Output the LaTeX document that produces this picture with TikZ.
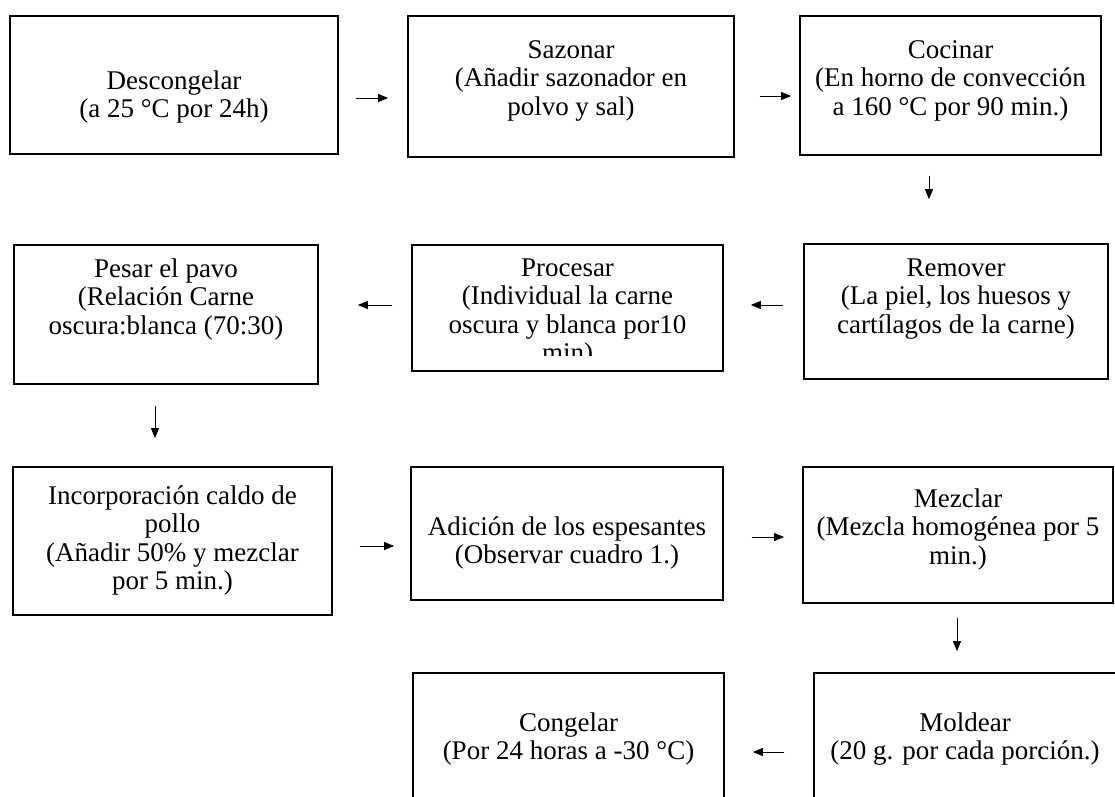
\documentclass[tikz,border=0pt]{standalone}
\usepackage{fontspec}
\setmainfont{Liberation Serif}
\usetikzlibrary{arrows.meta}

\begin{document}
\begin{tikzpicture}[x=1pt,y=-1pt,
  box/.style={draw,line width=1.7pt,inner sep=0pt},
  txt/.style={align=center,inner sep=0pt,anchor=north,font=\fontsize{27}{28.5}\selectfont},
  flow/.style={-{Triangle[length=10pt,width=8pt]},line width=1pt}]
  \path[use as bounding box,clip] (0,0) rectangle (1115,796);
  % boxes (absolute positions, px of the original)
  \node[box,minimum width=328,minimum height=138] (desc) at (174,85) {};
  \node[box,minimum width=326,minimum height=141] (saz) at (571,86.5) {};
  \node[box,minimum width=301,minimum height=139] (coc) at (950.5,85.5) {};
  \node[box,minimum width=304,minimum height=135] (rem) at (956,311.5) {};
  \node[box,minimum width=311,minimum height=126] (proc) at (567.5,308) {};
  \node[box,minimum width=304,minimum height=139] (pesar) at (166,314.5) {};
  \node[box,minimum width=319,minimum height=148] (inc) at (172.5,541) {};
  \node[box,minimum width=312,minimum height=133] (adi) at (567,533.5) {};
  \node[box,minimum width=310,minimum height=136] (mez) at (958,535) {};
  \node[box,minimum width=311,minimum height=128] (cong) at (568.5,737) {};
  \node[box,minimum width=302,minimum height=128] (mold) at (965,737) {};
  % texts
  \node[txt] (descT) at ([yshift=-55]desc.north) {Descongelar\\(a 25 °C por 24h)};
  \node[txt] (sazT) at ([yshift=-25]saz.north) {Sazonar\\(Añadir sazonador en\\polvo y sal)};
  \node[txt] (cocT) at ([yshift=-25]coc.north) {Cocinar\\(En horno de convección\\a 160 °C por 90 min.)};
  \node[txt] (remT) at ([yshift=-15]rem.north) {Remover\\(La piel, los huesos y\\cartílagos de la carne)};
  \begin{scope}
    \clip (proc.north west) rectangle ([yshift=16]proc.south east);
    \node[txt] (procT) at ([yshift=-14]proc.north) {Procesar\\(Individual la carne\\oscura y blanca por10\\min)};
  \end{scope}
  \node[txt] (pesarT) at ([yshift=-14]pesar.north) {Pesar el pavo\\(Relación Carne\\oscura:blanca (70:30)};
  \node[txt] (incT) at ([yshift=-19]inc.north) {Incorporación caldo de\\pollo\\(Añadir 50\% y mezclar\\por 5 min.)};
  \node[txt] (adiT) at ([yshift=-50]adi.north) {Adición de los espesantes\\(Observar cuadro 1.)};
  \node[txt] (mezT) at ([yshift=-22]mez.north) {Mezclar\\(Mezcla homogénea por 5\\min.)};
  \node[txt] (congT) at ([yshift=-40]cong.north) {Congelar\\(Por 24 horas a -30 °C)};
  \node[txt] (moldT) at ([yshift=-40]mold.north) {Moldear\\(20 g. por cada porción.)};
  % arrows
  \draw[flow,shorten <=17,shorten >=19] ([yshift=-13]desc.east) -- ([yshift=-13]desc.east -| saz.west);
  \draw[flow,shorten <=25,shorten >=8] ([yshift=-9.5]saz.east) -- ([yshift=-9.5]saz.east -| coc.west);
  \draw[flow,shorten <=20,shorten >=44] ([xshift=-21.5]coc.south) -- ([xshift=-21.5]coc.south |- rem.north);
  \draw[flow,shorten <=20,shorten >=27] ([yshift=6.5]rem.west) -- ([yshift=6.5]rem.west -| proc.east);
  \draw[flow,shorten <=19,shorten >=39] ([yshift=3]proc.west) -- ([yshift=3]proc.west -| pesar.east);
  \draw[flow,shorten <=21,shorten >=28] ([xshift=-11]pesar.south) -- ([xshift=-11]pesar.south |- inc.north);
  \draw[flow,shorten <=27,shorten >=16] ([yshift=-5]inc.east) -- ([yshift=-5]inc.east -| adi.west);
  \draw[flow,shorten <=28,shorten >=18] ([yshift=-3.5]adi.east) -- ([yshift=-3.5]adi.east -| mez.west);
  \draw[flow,shorten <=14,shorten >=21] ([xshift=-1]mez.south) -- ([xshift=-1]mez.south |- mold.north);
  \draw[flow,shorten <=29,shorten >=28] ([yshift=-15]mold.west) -- ([yshift=-15]mold.west -| cong.east);
\end{tikzpicture}
\end{document}
